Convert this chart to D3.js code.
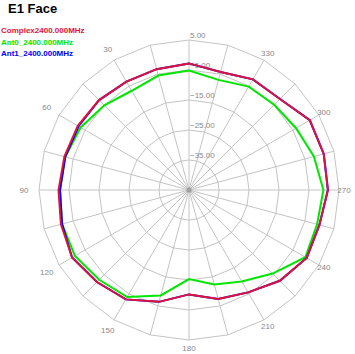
<!DOCTYPE html>
<html>
<head>
<meta charset="utf-8">
<script src="https://cdn.jsdelivr.net/npm/d3@7"></script>
<style>
  body { margin: 0; background: #fff; }
  svg { display: block; font-family: "Liberation Sans", Arial, sans-serif; }
</style>
</head>
<body>
<div id="chart"></div>
<script>
// angles in degrees, counter-clockwise from the top
var angles = [0, 15, 30, 45, 60, 75, 90, 105, 120, 135, 150, 165,
              180, 195, 210, 225, 240, 255, 270, 285, 300, 315, 330, 345];

// gain in dB
var complexDb = [-2.8, -3.3, -3.3, -2.6, -2.2, -2.0, -1.5, -0.8, 0.0, -1.6, -2.9, -6.4,
                 -10.2, -7.4, -5.6, -2.2, 0.3, 0.0, 1.3, 1.5, 1.5, -2.1, -2.4, -4.3];
var ant0Db = [-5.2, -5.5, -6.8, -5.1, -3.3, -2.3, -2.0, -1.2, -1.1, -2.7, -3.8, -8.6,
              -15.3, -12.4, -9.8, -5.6, -0.2, -0.8, -0.2, -1.9, -3.8, -4.8, -5.2, -7.0];
var ant1Db = [-2.8, -3.3, -3.3, -2.6, -2.5, -2.3, -2.0, -1.2, 0.0, -1.6, -2.9, -6.4,
              -10.2, -7.4, -5.6, -2.2, 0.3, 0.0, 1.3, 1.5, 1.5, -2.1, -2.4, -4.3];

var ringValues = [5, -5, -15, -25, -35];
var angleLabels = [30, 60, 90, 120, 150, 180, 210, 240, 270, 300, 330];
var seriesNames = ['Complex2400.000MHz', 'Ant0_2400.000MHz', 'Ant1_2400.000MHz'];

var width = 355, height = 354;
var cx = 189, cy = 190, outer = 150;

var svg = d3.select('#chart').append('svg')
    .attr('width', width).attr('height', height);

svg.append('rect').attr('width', width).attr('height', height).attr('fill', '#fff');

// title + legend
svg.append('text')
    .attr('x', 8).attr('y', 13)
    .attr('font-size', 13).attr('font-weight', 'bold')
    .text('E1 Face');

var colors = ['#dc143c', '#00e600', '#0000ff'];
svg.selectAll('.legend')
    .data(seriesNames)
    .enter().append('text')
    .attr('class', 'legend')
    .attr('x', 1)
    .attr('y', function(d, i) { return 33 + i * 11.5; })
    .attr('font-size', 8).attr('font-weight', 'bold')
    .attr('fill', function(d, i) { return colors[i]; })
    .text(function(d) { return d; });

var g = svg.append('g')
    .attr('transform', 'translate(' + cx + ' ' + cy + ')');

// radial scale: -45 dB at the centre, +5 dB at the outer ring
var r = d3.scaleLinear().domain([-45, 5]).range([0, outer]);
var rad = function(deg) { return -deg * Math.PI / 180; };

// grid rings, drawn as 24-sided polygons
var ringLine = d3.lineRadial()
    .angle(function(d) { return rad(d.a); })
    .radius(function(d) { return r(d.v); })
    .curve(d3.curveLinearClosed);

ringValues.forEach(function(v) {
    g.append('path')
        .attr('d', ringLine(angles.map(function(a) { return {a: a, v: v}; })))
        .attr('fill', 'none')
        .attr('stroke', '#c4c4c4')
        .attr('stroke-width', 1);
});

// spokes
g.selectAll('.spoke')
    .data(angles)
    .enter().append('line')
    .attr('class', 'spoke')
    .attr('x1', 0).attr('y1', 0)
    .attr('x2', function(a) { return -outer * Math.sin(a * Math.PI / 180); })
    .attr('y2', function(a) { return -outer * Math.cos(a * Math.PI / 180); })
    .attr('stroke', '#c4c4c4')
    .attr('stroke-width', 1);

g.append('circle').attr('r', 2.5).attr('fill', '#a0a0a0');

// ring labels
g.selectAll('.rlabel')
    .data(ringValues)
    .enter().append('text')
    .attr('class', 'rlabel')
    .attr('x', 1)
    .attr('y', function(v) { return -r(v) - 2; })
    .attr('font-size', 8).attr('fill', '#888')
    .text(function(v) { return d3.format('.2f')(v); });

// angle labels sit just outside the outer ring (a bit further out on the left)
var labelR = function(a) { return 160 + 5 * Math.sin(a * Math.PI / 180); };
g.selectAll('.alabel')
    .data(angleLabels)
    .enter().append('text')
    .attr('class', 'alabel')
    .attr('x', function(a) { return Math.min(-labelR(a) * Math.sin(a * Math.PI / 180), width - cx - 9); })
    .attr('y', function(a) { return Math.min(-labelR(a) * Math.cos(a * Math.PI / 180), height - cy - 6); })
    .attr('text-anchor', 'middle')
    .attr('dominant-baseline', 'central')
    .attr('font-size', 8).attr('fill', '#888')
    .text(function(a) { return a; });

// series
var traceLine = d3.lineRadial()
    .angle(function(d, i) { return rad(angles[i]); })
    .radius(function(d) { return r(d); })
    .curve(d3.curveLinearClosed);

[[ant0Db, colors[1]], [ant1Db, colors[2]], [complexDb, colors[0]]].forEach(function(s) {
    g.append('path')
        .datum(s[0])
        .attr('d', traceLine)
        .attr('fill', 'none')
        .attr('stroke', s[1])
        .attr('stroke-width', 2);
});
</script>
</body>
</html>
